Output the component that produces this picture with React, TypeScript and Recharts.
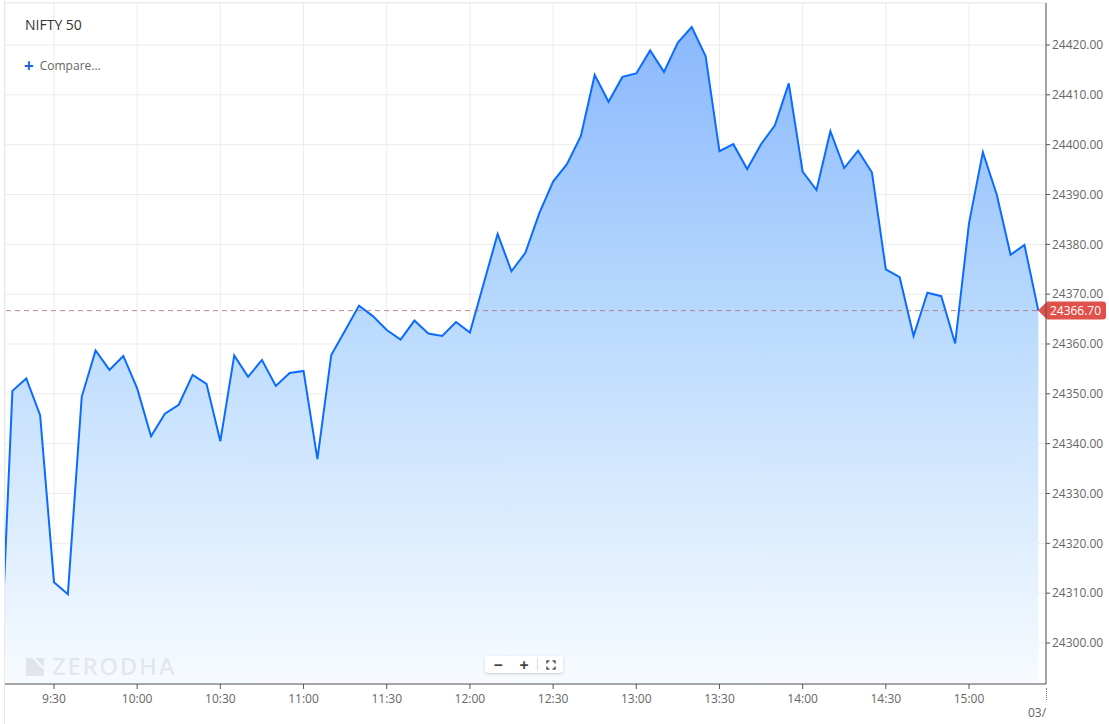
import React from "react";
import {
  AreaChart, Area, XAxis, YAxis, CartesianGrid, ReferenceLine,
} from "recharts";

const times = [
  "9:10", "9:15", "9:20", "9:25", "9:30", "9:35", "9:40", "9:45", "9:50", "9:55",
  "10:00", "10:05", "10:10", "10:15", "10:20", "10:25", "10:30", "10:35", "10:40", "10:45", "10:50", "10:55",
  "11:00", "11:05", "11:10", "11:15", "11:20", "11:25", "11:30", "11:35", "11:40", "11:45", "11:50", "11:55",
  "12:00", "12:05", "12:10", "12:15", "12:20", "12:25", "12:30", "12:35", "12:40", "12:45", "12:50", "12:55",
  "13:00", "13:05", "13:10", "13:15", "13:20", "13:25", "13:30", "13:35", "13:40", "13:45", "13:50", "13:55",
  "14:00", "14:05", "14:10", "14:15", "14:20", "14:25", "14:30", "14:35", "14:40", "14:45", "14:50", "14:55",
  "15:00", "15:05", "15:10", "15:15", "15:20", "15:25",
];

const prices = [
  24286.0, 24350.6, 24353.1, 24345.7, 24312.2, 24309.8, 24349.4, 24358.7, 24354.8, 24357.6,
  24351.1, 24341.5, 24346.0, 24347.8, 24353.8, 24352.0, 24340.5, 24357.7, 24353.4, 24356.8, 24351.6, 24354.2,
  24354.6, 24336.9, 24357.8, 24362.7, 24367.7, 24365.6, 24362.8, 24360.9, 24364.7, 24362.1, 24361.6, 24364.4,
  24362.3, 24372.2, 24382.1, 24374.6, 24378.3, 24386.2, 24392.6, 24396.1, 24401.7, 24414.0, 24408.6, 24413.6,
  24414.3, 24418.9, 24414.6, 24420.5, 24423.6, 24417.8, 24398.7, 24400.1, 24395.1, 24400.1, 24403.9, 24412.3,
  24394.6, 24390.9, 24402.7, 24395.3, 24398.8, 24394.4, 24375.0, 24373.4, 24361.6, 24370.3, 24369.6, 24360.1,
  24384.2, 24398.5, 24390.0, 24377.9, 24379.9, 24366.7,
];

const lastPrice = 24366.7;

const yTicks = [24300, 24310, 24320, 24330, 24340, 24350, 24360, 24370, 24380, 24390, 24400, 24410, 24420];
const xTickLabels = ["9:30", "10:00", "10:30", "11:00", "11:30", "12:00", "12:30", "13:00", "13:30", "14:00", "14:30", "15:00"];

const toMin = (t: string) => {
  const [h, m] = t.split(":").map(Number);
  return h * 60 + m;
};
const fmtTime = (v: number) => `${Math.floor(v / 60)}:${String(v % 60).padStart(2, "0")}`;

const data = times.map((t, i) => ({ t: toMin(t), price: prices[i] }));
const xTicks = xTickLabels.map(toMin);

const FONT = "'Open Sans', sans-serif";
const tickStyle = { fontSize: 12, fill: "#666", fontFamily: FONT };

function PriceTag(props: any) {
  const { viewBox } = props;
  const tip = viewBox.x + viewBox.width - 8;
  const y = viewBox.y;
  const l = tip + 9;
  const r = tip + 68;
  return (
    <g>
      <path
        d={`M${tip},${y} L${l},${y - 9} L${r - 3},${y - 9} Q${r},${y - 9} ${r},${y - 6} L${r},${y + 6} Q${r},${y + 9} ${r - 3},${y + 9} L${l},${y + 9} Z`}
        fill="#e0514b"
      />
      <text x={(l + r) / 2 - 1} y={y + 4.5} textAnchor="middle" fill="#fff" fontSize={12} fontFamily={FONT}>
        {lastPrice.toFixed(2)}
      </text>
    </g>
  );
}

export default function App() {
  return (
    <div style={{ position: "absolute", left: 0, top: 0, width: 1109, height: 724, background: "#fff", fontFamily: FONT }}>
      <div style={{ position: "absolute", left: 4, top: 0, width: 1, height: 724, background: "#e6e6e6" }} />
      <div style={{ position: "absolute", left: 4, top: 2, width: 1042, height: 1, background: "#ececec" }} />
      <AreaChart width={1109} height={724} data={data} margin={{ top: 3, right: 0, bottom: 0, left: 5 }}>
        <defs>
          <linearGradient id="fillGrad" x1="0" y1="3" x2="0" y2="684" gradientUnits="userSpaceOnUse">
            <stop offset="0%" stopColor="#86b5fd" />
            <stop offset="45%" stopColor="#b8d9fd" />
            <stop offset="100%" stopColor="#f7fbff" />
          </linearGradient>
        </defs>
        <CartesianGrid stroke="#ececec" />
        <XAxis
          dataKey="t"
          type="number"
          domain={[552.33, 927.77]}
          allowDataOverflow
          ticks={xTicks}
          tickFormatter={fmtTime}
          height={40}
          stroke="#555"
          tick={tickStyle}
          tickSize={5}
          tickMargin={5}
        />
        <YAxis
          orientation="right"
          type="number"
          domain={[24291.77, 24428.43]}
          allowDataOverflow
          ticks={yTicks}
          tickFormatter={(v: number) => v.toFixed(2)}
          width={63}
          stroke="#555"
          tick={tickStyle}
          tickSize={4}
          tickMargin={2}
        />
        <ReferenceLine
          y={lastPrice}
          stroke="#a87078"
          strokeOpacity={0.8}
          strokeDasharray="5 4"
          label={<PriceTag />}
        />
        <Area
          type="linear"
          dataKey="price"
          stroke="#0a6cff"
          strokeWidth={2}
          fill="url(#fillGrad)"
          fillOpacity={1}
          dot={false}
          activeDot={false}
          isAnimationActive={false}
        />
      </AreaChart>

      <div style={{ position: "absolute", left: 25, top: 15, fontSize: 14, color: "#333" }}>NIFTY 50</div>
      <div style={{ position: "absolute", left: 24, top: 57, fontSize: 12, color: "#666", display: "flex", alignItems: "center" }}>
        <span style={{ color: "#1a63d6", fontSize: 17, fontWeight: 700, marginRight: 6, lineHeight: "16px" }}>+</span>
        <span>Compare...</span>
      </div>

      <div style={{ position: "absolute", left: 26, top: 654, display: "flex", alignItems: "center", color: "rgba(110,110,110,0.13)" }}>
        <svg width={18} height={19} viewBox="0 0 18 19">
          <polygon points="0,1 6,1 18,13 18,19 0,19" fill="rgba(110,110,110,0.14)" />
          <polygon points="9,1 18,1 18,10" fill="rgba(110,110,110,0.14)" />
        </svg>
        <span style={{ fontSize: 24, fontWeight: 600, letterSpacing: 1.6, marginLeft: 8, lineHeight: "24px" }}>ZERODHA</span>
      </div>

      <div
        style={{
          position: "absolute", left: 485, top: 656, width: 78, height: 17, background: "#fff",
          borderRadius: 3, boxShadow: "0 1px 3px rgba(0,0,0,0.18)", display: "flex", alignItems: "center",
          fontSize: 16, fontWeight: 700, color: "#444",
        }}
      >
        <span style={{ width: 26, textAlign: "center" }}>−</span>
        <span style={{ width: 26, textAlign: "center" }}>+</span>
        <span style={{ width: 1, height: 13, background: "#ddd" }} />
        <span style={{ flex: 1, display: "flex", justifyContent: "center" }}>
          <svg width={10} height={10} viewBox="0 0 10 10" fill="none" stroke="#555" strokeWidth={1.5}>
            <path d="M1,3.5 V1 H3.5 M6.5,1 H9 V3.5 M9,6.5 V9 H6.5 M3.5,9 H1 V6.5" />
          </svg>
        </span>
      </div>

      <div style={{ position: "absolute", left: 1046, top: 688, width: 0, height: 12, borderLeft: "1px dotted #777" }} />
      <div style={{ position: "absolute", left: 1028, top: 704, fontSize: 12, color: "#666", whiteSpace: "nowrap" }}>03/</div>
    </div>
  );
}
